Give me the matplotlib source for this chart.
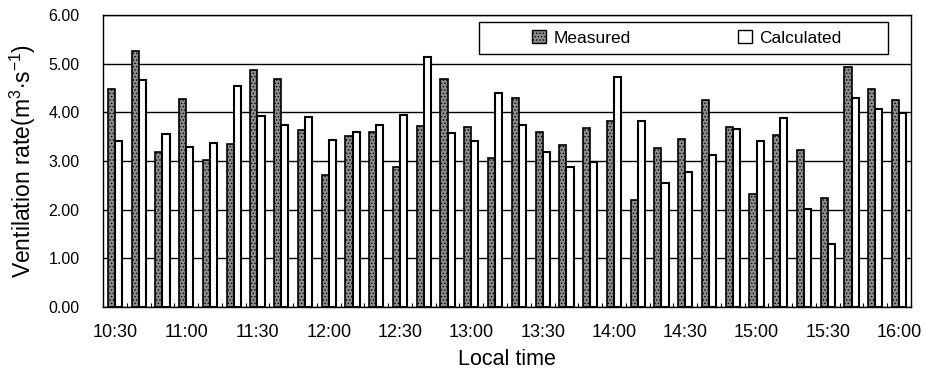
import matplotlib
matplotlib.use("Agg")
import matplotlib.pyplot as plt
import numpy as np
from matplotlib.patches import Rectangle, Patch

plt.rcParams['font.family'] = ['Liberation Sans', 'DejaVu Sans']
plt.rcParams['mathtext.fontset'] = 'custom'
plt.rcParams['mathtext.rm'] = 'Liberation Sans'
plt.rcParams['mathtext.it'] = 'Liberation Sans'
plt.rcParams['hatch.linewidth'] = 0.6

times = ["10:30", "10:40", "10:50", "11:00", "11:10", "11:20", "11:30", "11:40", "11:50",
         "12:00", "12:10", "12:20", "12:30", "12:40", "12:50", "13:00", "13:10", "13:20",
         "13:30", "13:40", "13:50", "14:00", "14:10", "14:20", "14:30", "14:40", "14:50",
         "15:00", "15:10", "15:20", "15:30", "15:40", "15:50", "16:00"]
measured = [4.47, 5.27, 3.18, 4.27, 3.03, 3.34, 4.87, 4.69, 3.64,
            2.71, 3.51, 3.59, 2.88, 3.72, 4.68, 3.70, 3.07, 4.29,
            3.59, 3.33, 3.67, 3.83, 2.20, 3.27, 3.46, 4.25, 3.70,
            2.33, 3.53, 3.22, 2.25, 4.94, 4.47, 4.25]
calculated = [3.42, 4.66, 3.55, 3.29, 3.36, 4.55, 3.92, 3.74, 3.91,
              3.44, 3.59, 3.75, 3.95, 5.14, 3.58, 3.41, 4.40, 3.74,
              3.19, 2.87, 2.98, 4.72, 3.83, 2.54, 2.77, 3.12, 3.66,
              3.41, 3.88, 2.01, 1.30, 4.29, 4.06, 3.98]
yticks = [0, 1, 2, 3, 4, 5, 6]

fig = plt.figure(figsize=(9.25, 3.72), dpi=100)
ax = fig.add_axes([103/925, 65/372, 808/925, 292/372])

x = np.arange(len(times))
w = 0.3
ax.bar(x - w/2, measured, width=w, facecolor='#8c8c8c', edgecolor='black',
       linewidth=1.2, hatch='.....', zorder=3, label='Measured')
ax.bar(x + w/2, calculated, width=w, facecolor='white', edgecolor='black',
       linewidth=1.5, zorder=3, label='Calculated')

ax.set_xlim(-0.5, len(times) - 0.5)
ax.set_ylim(0, 6)
ax.set_yticks(yticks)
ax.set_yticklabels([f"{v:.2f}" for v in yticks], fontsize=11.5)
ax.yaxis.grid(True, color='black', linewidth=1.0, zorder=0)
ax.set_axisbelow(True)

ax.set_xticks(x[::3])
ax.set_xticklabels(times[::3], fontsize=13)
ax.set_xticks(np.arange(-0.5, len(times), 1), minor=True)
ax.tick_params(axis='x', which='major', length=0, pad=12)
ax.tick_params(axis='x', which='minor', length=3, direction='in', width=0.8)
ax.tick_params(axis='y', length=0, pad=17)

for s in ax.spines.values():
    s.set_color('black')
    s.set_linewidth(1.0)

ax.set_xlabel("Local time", fontsize=15.5, labelpad=6)
ax.set_ylabel(r"Ventilation rate(m$^{3}$$\cdot$s$^{-1}$)", fontsize=16.5, labelpad=7)

# legend box
bx0 = (479 - 103) / 808
bx1 = (888 - 103) / 808
by0 = (307 - 54) / 292
by1 = (307 - 22) / 292
ax.add_patch(Rectangle((bx0, by0), bx1 - bx0, by1 - by0, transform=ax.transAxes,
                       facecolor='white', edgecolor='black', linewidth=1.0, zorder=5))
handles = [Patch(facecolor='#8c8c8c', edgecolor='black', hatch='.....', linewidth=1.0),
           Patch(facecolor='white', edgecolor='black', linewidth=1.0)]
leg = ax.legend(handles, ['Measured', 'Calculated'], loc='center',
                bbox_to_anchor=((bx0 + bx1) / 2 + 0.004, (by0 + by1) / 2),
                ncol=2, frameon=False, fontsize=12.5, handlelength=0.8, handleheight=0.8,
                handletextpad=0.4, columnspacing=6.2)
leg.set_zorder(6)

fig.savefig("out.png", dpi=100)
